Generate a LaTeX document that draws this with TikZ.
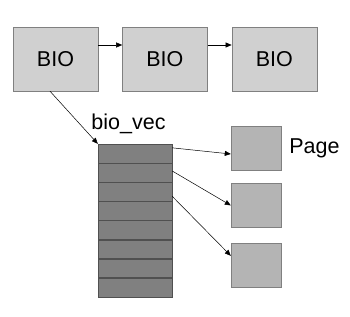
\documentclass[tikz,border=0pt]{standalone}
\usepackage{fontspec}
\setmainfont{Liberation Sans}
\usepackage{xcolor}
\definecolor{griscadre}{HTML}{808080}
\definecolor{grisclair}{HTML}{D0D0D0}
\definecolor{grisfonce}{HTML}{808080}
\definecolor{grisligne}{HTML}{505050}
\definecolor{grispage}{HTML}{B4B4B4}
\usetikzlibrary{positioning, arrows.meta}

\begin{document}
\begin{tikzpicture}[x=1pt, y=-1pt,
      bloc/.style={draw=griscadre, fill=grisclair, minimum width=85pt,
                   minimum height=64pt, inner sep=0pt,
                   font=\fontsize{21.5}{25}\selectfont},
      case/.style={draw=grisligne, fill=grisfonce, minimum width=74pt,
                   minimum height=18.75pt, inner sep=0pt},
      feuille/.style={draw=griscadre, fill=grispage, minimum width=50pt,
                      minimum height=44pt, inner sep=0pt},
      etiq/.style={inner sep=0pt, font=\fontsize{21.5}{25}\selectfont},
      fleche/.style={-{Triangle[length=6pt, width=5pt]}, line width=0.5pt},
      node distance=24pt]
    \useasboundingbox (0,0) rectangle (350,316);
    % chaine des BIO
    \node[bloc] (bio1) at (55.5,59) {BIO};
    \node[bloc, right=of bio1] (bio2) {BIO};
    \node[bloc, right=of bio2] (bio3) {BIO};
    \draw[fleche] ([yshift=14pt]bio1.east) -- ([yshift=14pt]bio2.west);
    \draw[fleche] ([yshift=14pt]bio2.east) -- ([yshift=14pt]bio3.west);
    % tableau bio_vec
    \node[case] (r1) at (135,153.4) {};
    \foreach \i [remember=\i as \j (initially 1)] in {2,...,8}
      \node[case, below=0pt of r\j] (r\i) {};
    \node[etiq] (vec) at (128.5,124) {bio\_vec};
    \draw[fleche] ([xshift=-5.5pt]bio1.south) -- (r1.north west);
    % pages
    \node[feuille] (p1) at (256,148) {};
    \node[feuille, below=13pt of p1] (p2) {};
    \node[feuille, below=15pt of p2] (p3) {};
    \node[etiq, right=8pt of p1] (page) {Page};
    \draw[fleche] ([yshift=-4pt]r1.north east) -- ([yshift=-6pt]p1.west);
    \draw[fleche] ([yshift=-8pt]r2.north east) -- (p2.west);
    \draw[fleche] ([yshift=5pt]r3.south east) -- ([yshift=9pt]p3.west);
  \end{tikzpicture}
\end{document}
